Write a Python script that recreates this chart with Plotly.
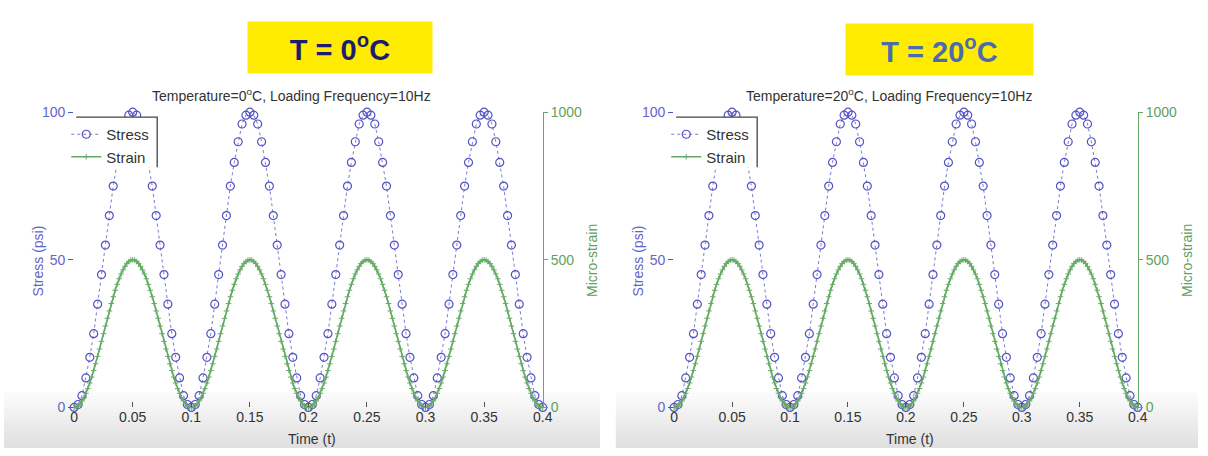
import plotly.graph_objects as go

# ---------------------------------------------------------------- data
# sample clocks (s): stress logged at 300 Hz, strain at 600 Hz
stress_time = [i / 300 for i in range(121)]
strain_time = [i / 600 for i in range(241)]

# stress (psi), T = 0 C
stress_0c = [
    0, 1, 4, 10, 17, 25, 35, 45, 55, 65, 75, 83, 90, 96, 99,
    100, 99, 96, 90, 83, 75, 65, 55, 45, 35, 25, 17, 10, 4, 1,
    0, 1, 4, 10, 17, 25, 35, 45, 55, 65, 75, 83, 90, 96, 99,
    100, 99, 96, 90, 83, 75, 65, 55, 45, 35, 25, 17, 10, 4, 1,
    0, 1, 4, 10, 17, 25, 35, 45, 55, 65, 75, 83, 90, 96, 99,
    100, 99, 96, 90, 83, 75, 65, 55, 45, 35, 25, 17, 10, 4, 1,
    0, 1, 4, 10, 17, 25, 35, 45, 55, 65, 75, 83, 90, 96, 99,
    100, 99, 96, 90, 83, 75, 65, 55, 45, 35, 25, 17, 10, 4, 1,
    0,
]

# micro-strain, T = 0 C
strain_0c = [
    0, 1, 5, 12, 22, 33, 48, 64, 83, 103, 125, 148, 173, 198, 224,
    250, 276, 302, 327, 352, 375, 397, 417, 436, 452, 466, 478, 488, 494, 499,
    500, 499, 494, 488, 478, 466, 452, 436, 417, 397, 375, 352, 327, 302, 276,
    250, 224, 198, 173, 148, 125, 103, 83, 64, 48, 33, 22, 12, 5, 1,
    0, 1, 5, 12, 22, 33, 48, 64, 83, 103, 125, 148, 173, 198, 224,
    250, 276, 302, 327, 352, 375, 397, 417, 436, 452, 466, 478, 488, 494, 499,
    500, 499, 494, 488, 478, 466, 452, 436, 417, 397, 375, 352, 327, 302, 276,
    250, 224, 198, 173, 148, 125, 103, 83, 64, 48, 33, 22, 12, 5, 1,
    0, 1, 5, 12, 22, 33, 48, 64, 83, 103, 125, 148, 173, 198, 224,
    250, 276, 302, 327, 352, 375, 397, 417, 436, 452, 466, 478, 488, 494, 499,
    500, 499, 494, 488, 478, 466, 452, 436, 417, 397, 375, 352, 327, 302, 276,
    250, 224, 198, 173, 148, 125, 103, 83, 64, 48, 33, 22, 12, 5, 1,
    0, 1, 5, 12, 22, 33, 48, 64, 83, 103, 125, 148, 173, 198, 224,
    250, 276, 302, 327, 352, 375, 397, 417, 436, 452, 466, 478, 488, 494, 499,
    500, 499, 494, 488, 478, 466, 452, 436, 417, 397, 375, 352, 327, 302, 276,
    250, 224, 198, 173, 148, 125, 103, 83, 64, 48, 33, 22, 12, 5, 1,
    0,
]

# stress (psi), T = 20 C
stress_20c = [
    0, 1, 4, 10, 17, 25, 35, 45, 55, 65, 75, 83, 90, 96, 99,
    100, 99, 96, 90, 83, 75, 65, 55, 45, 35, 25, 17, 10, 4, 1,
    0, 1, 4, 10, 17, 25, 35, 45, 55, 65, 75, 83, 90, 96, 99,
    100, 99, 96, 90, 83, 75, 65, 55, 45, 35, 25, 17, 10, 4, 1,
    0, 1, 4, 10, 17, 25, 35, 45, 55, 65, 75, 83, 90, 96, 99,
    100, 99, 96, 90, 83, 75, 65, 55, 45, 35, 25, 17, 10, 4, 1,
    0, 1, 4, 10, 17, 25, 35, 45, 55, 65, 75, 83, 90, 96, 99,
    100, 99, 96, 90, 83, 75, 65, 55, 45, 35, 25, 17, 10, 4, 1,
    0,
]

# micro-strain, T = 20 C
strain_20c = [
    0, 1, 5, 12, 22, 33, 48, 64, 83, 103, 125, 148, 173, 198, 224,
    250, 276, 302, 327, 352, 375, 397, 417, 436, 452, 466, 478, 488, 494, 499,
    500, 499, 494, 488, 478, 466, 452, 436, 417, 397, 375, 352, 327, 302, 276,
    250, 224, 198, 173, 148, 125, 103, 83, 64, 48, 33, 22, 12, 5, 1,
    0, 1, 5, 12, 22, 33, 48, 64, 83, 103, 125, 148, 173, 198, 224,
    250, 276, 302, 327, 352, 375, 397, 417, 436, 452, 466, 478, 488, 494, 499,
    500, 499, 494, 488, 478, 466, 452, 436, 417, 397, 375, 352, 327, 302, 276,
    250, 224, 198, 173, 148, 125, 103, 83, 64, 48, 33, 22, 12, 5, 1,
    0, 1, 5, 12, 22, 33, 48, 64, 83, 103, 125, 148, 173, 198, 224,
    250, 276, 302, 327, 352, 375, 397, 417, 436, 452, 466, 478, 488, 494, 499,
    500, 499, 494, 488, 478, 466, 452, 436, 417, 397, 375, 352, 327, 302, 276,
    250, 224, 198, 173, 148, 125, 103, 83, 64, 48, 33, 22, 12, 5, 1,
    0, 1, 5, 12, 22, 33, 48, 64, 83, 103, 125, 148, 173, 198, 224,
    250, 276, 302, 327, 352, 375, 397, 417, 436, 452, 466, 478, 488, 494, 499,
    500, 499, 494, 488, 478, 466, 452, 436, 417, 397, 375, 352, 327, 302, 276,
    250, 224, 198, 173, 148, 125, 103, 83, 64, 48, 33, 22, 12, 5, 1,
    0,
]

time_ticks = [0, 0.05, 0.1, 0.15, 0.2, 0.25, 0.3, 0.35, 0.4]
time_labels = ["0", "0.05", "0.1", "0.15", "0.2", "0.25", "0.3", "0.35", "0.4"]
stress_ticks = [0, 50, 100]
strain_ticks = [0, 500, 1000]
panel_temps = ["0", "20"]

# ---------------------------------------------------------------- style
W, H = 1208, 456
FONT = "Liberation Sans, Arial, Helvetica, sans-serif"
BLUE = "#5252c4"
BLUE_TXT = "#6464cc"
GREEN = "#66aa66"
GREEN_TXT = "#5f9f5f"
DARK = "#333333"

# panel geometry in pixels: (left, right) of the plotting box
panels_px = [(71, 545), (678, 1147)]
top_px, bottom_px = 108, 414


def px_x(v):
    return v / W


def px_y(v):
    return 1 - v / H


fig = go.Figure()

series = [(stress_0c, strain_0c), (stress_20c, strain_20c)]
for p, (stress, strain) in enumerate(series):
    xa = "x" if p == 0 else "x3"
    ya_s = "y" if p == 0 else "y3"
    ya_e = "y2" if p == 0 else "y4"
    leg = "legend" if p == 0 else "legend2"
    fig.add_trace(go.Scatter(
        x=stress_time, y=stress, name="Stress", xaxis=xa, yaxis=ya_s,
        mode="lines+markers", legend=leg, cliponaxis=False,
        line=dict(color="#7878d8", width=1, dash="dot"),
        marker=dict(symbol="circle-open", size=8, color=BLUE,
                    line=dict(width=1.2, color=BLUE)),
    ))
    fig.add_trace(go.Scatter(
        x=strain_time, y=strain, name="Strain", xaxis=xa, yaxis=ya_e,
        mode="lines+markers", legend=leg, cliponaxis=False,
        line=dict(color=GREEN, width=1.7),
        marker=dict(symbol="cross-thin-open", size=4, color=GREEN,
                    line=dict(width=1, color=GREEN)),
    ))

ydom = [px_y(bottom_px), px_y(top_px)]
layout = dict(
    width=W, height=H,
    margin=dict(l=0, r=0, t=0, b=0),
    paper_bgcolor="white",
    plot_bgcolor="rgba(0,0,0,0)",
    font=dict(family=FONT, size=14, color=DARK),
    showlegend=True,
)

axis_ids = [("xaxis", "xaxis2", "yaxis", "yaxis2", "x", "y"),
            ("xaxis3", "xaxis4", "yaxis3", "yaxis4", "x3", "y3")]
for p, (xb, xt, ys, ye, xref, yref) in enumerate(axis_ids):
    l, r = panels_px[p]
    dom = [px_x(l), px_x(r)]
    layout[xb] = dict(
        domain=dom, range=[0, 0.4], anchor=yref, showgrid=False,
        zeroline=False, showline=False, tickmode="array",
        tickvals=time_ticks, ticktext=time_labels, ticks="inside",
        ticklen=5, tickcolor="#555555", tickwidth=1,
        tickfont=dict(size=14, color=DARK, family=FONT),
    )
    layout[xt] = dict(
        overlaying=xref, side="top", anchor=yref, range=[0, 0.4],
        showgrid=False, zeroline=False, showline=True, linecolor="#333333",
        linewidth=1.5, tickmode="array", tickvals=[0.1, 0.2, 0.3],
        ticks="inside", ticklen=5, tickcolor="#333333",
        showticklabels=False,
    )
    layout[ys] = dict(
        domain=ydom, range=[0, 100], anchor=xref, showgrid=False,
        zeroline=False, showline=False, tickmode="array",
        tickvals=stress_ticks, ticks="outside", ticklen=5,
        tickcolor=BLUE, tickfont=dict(size=14, color=BLUE_TXT, family=FONT),
    )
    layout[ye] = dict(
        domain=ydom, range=[0, 1000], anchor=xref, overlaying=yref,
        side="right", showgrid=False, zeroline=False, showline=True,
        linecolor=GREEN, linewidth=1.3, tickmode="array",
        tickvals=strain_ticks, ticks="outside", ticklen=4, tickcolor=GREEN,
        tickfont=dict(size=14, color=GREEN_TXT, family=FONT),
    )

# legends
for p, key in enumerate(["legend", "legend2"]):
    l, _ = panels_px[p]
    layout[key] = dict(
        x=px_x(l - 8), y=px_y(114), xanchor="left", yanchor="top",
        bgcolor="rgba(0,0,0,0)", borderwidth=0, itemwidth=30,
        font=dict(size=15, color=DARK, family=FONT),
        tracegroupgap=0,
    )

fig.update_layout(**layout)

shapes = []
# soft grey band along the bottom of each panel
for x0, x1 in [(0, 603), (619, W)]:
    steps = 14
    for k in range(steps):
        y0 = 398 + k * (H - 398) / steps
        y1 = 398 + (k + 1) * (H - 398) / steps
        g = int(254 - (k + 1) * 30 / steps)
        shapes.append(dict(
            type="rect", xref="paper", yref="paper", layer="below",
            x0=px_x(x0), x1=px_x(x1), y0=px_y(y1), y1=px_y(y0),
            fillcolor=f"rgb({g},{g},{g})", line=dict(width=0),
        ))
# legend panel: white backing with top and right edges drawn
for l, _ in panels_px:
    xa, xb_ = px_x(l + 2), px_x(l + 84)
    ya, yb = px_y(113), px_y(165)
    shapes.append(dict(
        type="rect", xref="paper", yref="paper", layer="above",
        x0=xa, x1=xb_, y0=yb, y1=ya, fillcolor="white",
        line=dict(width=0),
    ))
    shapes.append(dict(
        type="path", xref="paper", yref="paper",
        path=f"M {xa},{ya} L {xb_},{ya} L {xb_},{yb}",
        line=dict(color="#444444", width=1.3),
    ))
fig.update_layout(shapes=shapes)

annotations = []
title_boxes = [((248, 432), (15, 66), "#1c1c70"), ((853, 1040), (17, 68), "#4a6cae")]
for p, ((bx0, bx1), (by0, by1), col) in enumerate(title_boxes):
    annotations.append(dict(
        xref="paper", yref="paper", x=px_x((bx0 + bx1) / 2),
        y=px_y((by0 + by1) / 2), xanchor="center", yanchor="middle",
        text=f"<b>T = {panel_temps[p]}<sup>o</sup>C</b>", showarrow=False,
        width=bx1 - bx0, height=by1 - by0, bgcolor="#ffec00", borderpad=0,
        font=dict(size=29, color=col, family=FONT),
    ))
for p, (l, r) in enumerate(panels_px):
    cx = (l + r) / 2
    annotations.append(dict(
        xref="paper", yref="paper", x=px_x(cx - 17), y=px_y(90),
        xanchor="center", yanchor="middle", showarrow=False,
        text=f"Temperature={panel_temps[p]}<sup>o</sup>C, Loading Frequency=10Hz",
        font=dict(size=14, color=DARK, family=FONT),
    ))
    annotations.append(dict(
        xref="paper", yref="paper", x=px_x(cx + 4), y=px_y(447),
        xanchor="center", yanchor="middle", showarrow=False,
        text="Time (t)", font=dict(size=14, color=DARK, family=FONT),
    ))
    annotations.append(dict(
        xref="paper", yref="paper", x=px_x(l - 37), y=px_y(262),
        xanchor="center", yanchor="middle", showarrow=False, textangle=-90,
        text="Stress (psi)", font=dict(size=14, color=BLUE_TXT, family=FONT),
    ))
    annotations.append(dict(
        xref="paper", yref="paper", x=px_x(r + 50), y=px_y(262),
        xanchor="center", yanchor="middle", showarrow=False, textangle=-90,
        text="Micro-strain", font=dict(size=14, color=GREEN_TXT, family=FONT),
    ))
fig.update_layout(annotations=annotations)

fig.write_html("out.html")
